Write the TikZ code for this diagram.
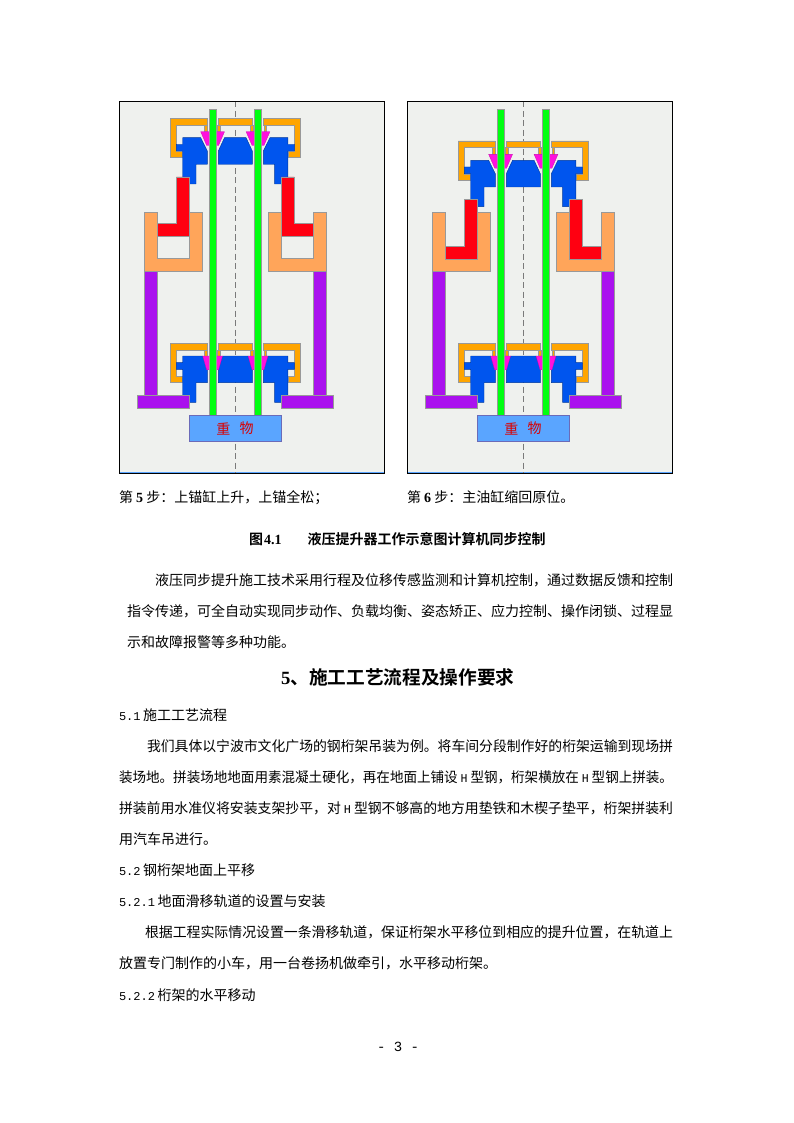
\documentclass[tikz,border=0pt]{standalone}
\usepackage{graphicx}
\usepackage{fontspec}
\setmainfont{Noto Sans CJK SC}[BoldFont={Noto Sans CJK SC Bold}]
\newfontfamily\monof{Liberation Mono}
\newfontfamily\serifb{Liberation Serif}[Scale=1.0]
\definecolor{panelbg}{HTML}{EFF1EE}
\definecolor{cOrange}{HTML}{FFA500}
\definecolor{cPeach}{HTML}{FFA55A}
\definecolor{cBlue}{HTML}{0055EE}
\definecolor{cRed}{HTML}{FF0011}
\definecolor{cPurple}{HTML}{AA11EE}
\definecolor{cGreen}{HTML}{00FF11}
\definecolor{cMag}{HTML}{FF11DD}
\definecolor{cLoad}{HTML}{5AA5FF}
\definecolor{edge}{HTML}{999999}
\tikzset{
  part/.style={draw=edge,line width=0.5pt,line join=miter},
  orangepart/.style={part,fill=cOrange},
  peachpart/.style={part,fill=cPeach},
  bluepart/.style={draw=black!35!cBlue,line width=0.4pt,fill=cBlue},
  redpart/.style={part,fill=cRed},
  purplepart/.style={part,fill=cPurple},
  greenpart/.style={part,fill=cGreen},
  magpart/.style={draw=black!20!cMag,line width=0.3pt,fill=cMag},
  loadpart/.style={draw=edge!70!blue,line width=0.8pt,fill=cLoad},
  txt/.style={anchor=base west,inner sep=0pt,outer sep=0pt,font=\fontsize{14}{14}\selectfont,text=black},
  loadtxt/.style={inner sep=0pt,font=\fontsize{14}{14}\selectfont,text=red!85!black},
}
\newcommand{\mon}[1]{{\monof\fontsize{12}{12}\selectfont #1}\hspace{2.5pt}}
\newcommand{\hmon}{\hspace{3pt}{\monof\fontsize{12}{12}\selectfont H}\hspace{3pt}}
\newcommand{\fitline}[2]{\resizebox{#1}{\height}{#2}}
% half of an anchor unit: #1 orange top, #2 blue top, #3 wedge top, #4 wedge/blue outer x
\newcommand{\halfunit}[4]{
  \draw[part,fill=cOrange] (204,#1+6.7) rectangle (206.8,#3);
  \draw[part,fill=cOrange] (217.6,#1+6.7) rectangle (220.4,#3);
  \draw[orangepart] (170,#1) -- (207.3,#1) -- (207.3,#1+6.7) -- (176.3,#1+6.7) -- (176.3,#1+33.2) -- (182.7,#1+33.2) -- (182.7,#1+39.2) -- (170,#1+39.2) -- cycle;
  \draw[bluepart] (182.7,#2) -- (#4,#2) -- (207.3,#2+13.3) -- (207.3,#2+26.6) -- (196,#2+26.6) -- (196,#2+46.3) -- (182.7,#2+46.3) -- (182.7,#2+13.3) -- (176.3,#2+13.3) -- (176.3,#2+6.6) -- (182.7,#2+6.6) -- cycle;
  \draw[magpart] (#4,#3) -- (425.2-#4,#3) -- (218.5,#3+13.8) -- (206.7,#3+13.8) -- cycle;
}
% whole anchor unit
\newcommand{\wholeunit}[4]{
  \draw[orangepart] (218.3,#1) rectangle (252.3,#1+6.7);
  \draw[bluepart] (218.3,#2+13.3) -- (425.2-#4,#2) -- (45.4+#4,#2) -- (252.3,#2+13.3) -- (252.3,#2+26.6) -- (218.3,#2+26.6) -- cycle;
  \halfunit{#1}{#2}{#3}{#4}
  \begin{scope}[xshift=470.6pt,xscale=-1]
    \halfunit{#1}{#2}{#3}{#4}
  \end{scope}
}
\newcommand{\halfjack}{
  \draw[purplepart] (144,271.7) rectangle (157,396);
  \draw[peachpart] (144,212.7) -- (157,212.7) -- (157,258.3) -- (189.3,258.3) -- (189.3,212.7) -- (202.3,212.7) -- (202.3,271.7) -- (144,271.7) -- cycle;
}
\newcommand{\halfram}[1]{
  \draw[redpart] (176.3,177+#1) -- (189.3,177+#1) -- (189.3,236.3+#1) -- (157,236.3+#1) -- (157,223.3+#1) -- (176.3,223.3+#1) -- cycle;
}
\newcommand{\panelall}[4]{
  % #1 upper orange top, #2 upper blue top, #3 upper wedge top, #4 red offset
  \fill[panelbg] (119.5,101.5) rectangle (384.5,473.5);
  \draw[cLoad,line width=1.6pt] (119.5,472.6) -- (384.5,472.6);
  \draw[edge!80!black,line width=0.8pt,dash pattern=on 6pt off 3.5pt] (235.3,101.5) -- (235.3,473);
  \halfjack
  \begin{scope}[xshift=470.6pt,xscale=-1]\halfjack\end{scope}
  \wholeunit{#1}{#2}{#3}{200.7}
  \wholeunit{343.3}{356}{356}{202.7}
  \halfram{#4}
  \begin{scope}[xshift=470.6pt,xscale=-1]\halfram{#4}\end{scope}
  \draw[purplepart] (137.3,395.7) rectangle (189.3,408.3);
  \draw[purplepart] (281.2,395.7) rectangle (332.8,408.3);
  \draw[greenpart] (209,109) rectangle (216,415.3);
  \draw[greenpart] (254.6,109) rectangle (261.6,415.3);
  \draw[loadpart] (189.3,415.3) rectangle (280.9,441.3);
  \draw[black,line width=1pt] (119.5,101.5) rectangle (384.5,473.8);
}
\begin{document}
\begin{tikzpicture}[x=1pt,y=-1pt]
\useasboundingbox (0,0) rectangle (794,1123);
\fill[white] (0,0) rectangle (794,1123);

\begin{scope}
  \panelall{118.3}{137.7}{131.7}{0}
  \node[loadtxt] (w1a) at (223.3,428.5) {重};
  \node[loadtxt] (w1b) at (246.7,428.5) {物};
\end{scope}
\begin{scope}[xshift=288pt]
  \panelall{141}{160.4}{154.4}{22.7}
  \node[loadtxt] (w2a) at (223.3,428.5) {重};
  \node[loadtxt] (w2b) at (246.7,428.5) {物};
\end{scope}

\node[txt] (c5) at (119,502) {第 {\serifb\bfseries 5} 步：上锚缸上升，上锚全松；};
\node[txt] (c6) at (407,502) {第 {\serifb\bfseries 6} 步：主油缸缩回原位。};
\node[txt,font=\fontsize{14}{14}\selectfont\bfseries] (figcap) at (249,544) {图{\serifb\hspace{1pt}4.1}\hspace{26pt}液压提升器工作示意图计算机同步控制};

\node[txt] (p1) at (155,585) {\fitline{518pt}{液压同步提升施工技术采用行程及位移传感监测和计算机控制，通过数据反馈和控制}};
\node[txt] (p2) at (127,616) {\fitline{546pt}{指令传递，可全自动实现同步动作、负载均衡、姿态矫正、应力控制、操作闭锁、过程显}};
\node[txt] (p3) at (127,647) {示和故障报警等多种功能。};

\node[txt,font=\fontsize{18.67}{18.67}\selectfont\bfseries] (h5) at (281,684.5) {{\serifb 5}、施工工艺流程及操作要求};

\node[txt] (s51) at (119,720) {\mon{5.1}施工工艺流程};
\node[txt] (q1) at (147,751) {\fitline{526pt}{我们具体以宁波市文化广场的钢桁架吊装为例。将车间分段制作好的桁架运输到现场拼}};
\node[txt] (q2) at (119,782) {\fitline{554pt}{装场地。拼装场地地面用素混凝土硬化，再在地面上铺设\hmon 型钢，桁架横放在\hmon 型钢上拼装。}};
\node[txt] (q3) at (119,813) {\fitline{554pt}{拼装前用水准仪将安装支架抄平，对\hmon 型钢不够高的地方用垫铁和木楔子垫平，桁架拼装利}};
\node[txt] (q4) at (119,844) {用汽车吊进行。};
\node[txt] (s52) at (119,875) {\mon{5.2}钢桁架地面上平移};
\node[txt] (s521) at (119,906) {\mon{5.2.1}地面滑移轨道的设置与安装};
\node[txt] (r1) at (145,937) {\fitline{528pt}{根据工程实际情况设置一条滑移轨道，保证桁架水平移位到相应的提升位置，在轨道上}};
\node[txt] (r2) at (119,968) {放置专门制作的小车，用一台卷扬机做牵引，水平移动桁架。};
\node[txt] (s522) at (119,1000) {\mon{5.2.2}桁架的水平移动};
\node[txt,anchor=base,font=\monof\fontsize{14}{14}\selectfont] (pg) at (398,1051) {- 3 -};
\end{tikzpicture}
\end{document}
